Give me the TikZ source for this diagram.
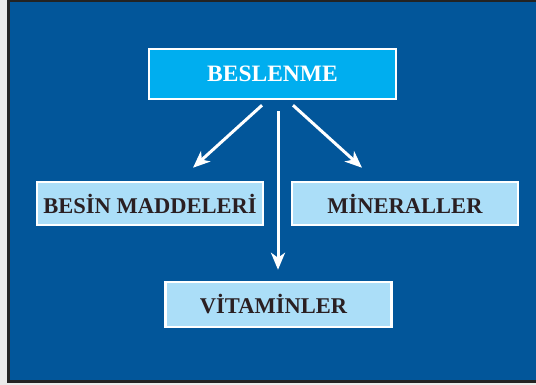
\documentclass[tikz,border=0pt]{standalone}
\usepackage{fontspec}
\setmainfont{Liberation Serif}
\usetikzlibrary{arrows.meta,calc}
\definecolor{panel}{HTML}{02569A}
\definecolor{headfill}{HTML}{00AEEF}
\definecolor{itemfill}{HTML}{ABDEF8}
\definecolor{itemtext}{HTML}{2A1F22}
\definecolor{paper}{HTML}{EAEAEA}
\definecolor{rim}{HTML}{232323}
\tikzset{
  headbox/.style={draw=white, line width=2.5pt, fill=headfill, text=white,
    minimum width=247pt, minimum height=50pt, inner sep=0pt,
    font=\fontsize{23.5}{26}\selectfont\bfseries},
  itembox/.style={draw=white, line width=2.5pt, fill=itemfill, text=itemtext,
    minimum width=226pt, minimum height=43pt, inner sep=0pt,
    font=\fontsize{22.5}{26}\selectfont\bfseries},
  link/.style={draw=white, line width=3pt,
    -{Stealth[length=17pt,width=14pt,inset=5pt]}}
}
\begin{document}
\begin{tikzpicture}[x=1pt,y=-1pt]
  \useasboundingbox (0,0) rectangle (536,385);
  % page and framed panel
  \fill[paper] (0,0) rectangle (536,385);
  \draw[rim, line width=3pt, fill=panel] (8.5,1) rectangle (545,381);

  % boxes
  \node[headbox] (beslenme) at (272.5,74) {BESLENME};
  \node[itembox] (besin) at (150,203.5) {BESİN MADDELERİ};
  \node[itembox] (mineral) at (405,203.5) {MİNERALLER};
  \node[itembox, minimum height=45pt] (vitamin) at (278.5,304.5) {VİTAMİNLER\hspace*{10pt}};

  % arrows
  \draw[link] ($(beslenme.south)+(-10.5,5)$) -- ($(besin.north)+(43,-13)$);
  \draw[link] ($(beslenme.south)+(20.5,5)$) -- ($(mineral.north)+(-43,-13)$);
  \draw[link] ($(beslenme.south)+(5.5,11)$) -- ($(vitamin.north)+(-0.5,-11)$);
\end{tikzpicture}
\end{document}
